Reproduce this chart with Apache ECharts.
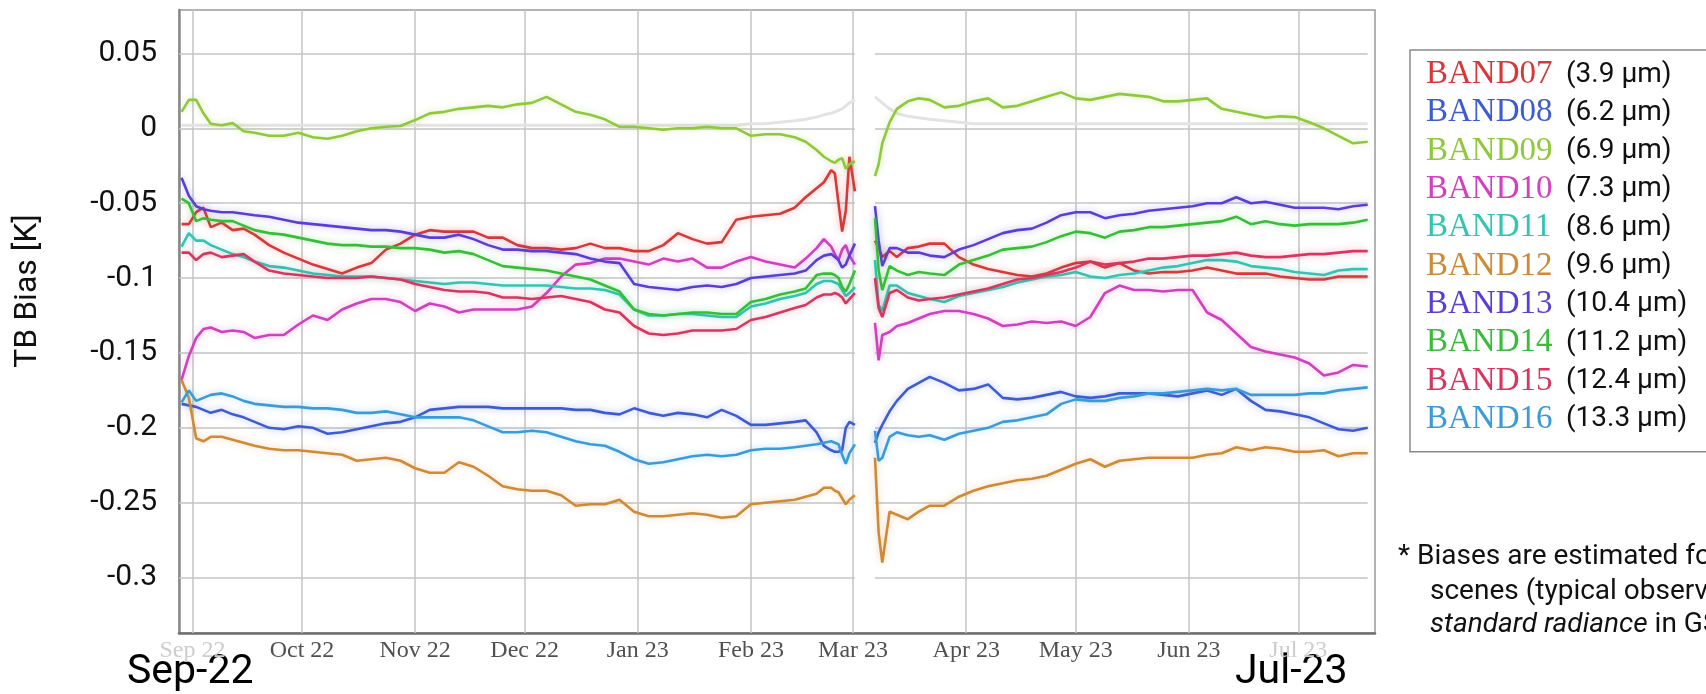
<!DOCTYPE html>
<html>
<head>
<meta charset="utf-8">
<script src="https://cdn.jsdelivr.net/npm/echarts@6/dist/echarts.min.js"></script>
<style>
  html, body { margin: 0; padding: 0; background: #ffffff; }
  #chart { width: 1706px; height: 694px; }
</style>
</head>
<body>
<div id="chart"></div>
<script>
// Himawari IR bands and their central wavelengths
const bandNames = ['BAND07', 'BAND08', 'BAND09', 'BAND10', 'BAND11', 'BAND12', 'BAND13', 'BAND14', 'BAND15', 'BAND16'];
const wavelengths = ['(3.9 μm)', '(6.2 μm)', '(6.9 μm)', '(7.3 μm)', '(8.6 μm)', '(9.6 μm)', '(10.4 μm)', '(11.2 μm)', '(12.4 μm)', '(13.3 μm)'];
const bandColors = ['#d83838', '#3d5bd2', '#8fc93a', '#d23fbf', '#33c4b3', '#cf8a35', '#5a3ed6', '#38bd38', '#d6365f', '#3b9bd9'];

// Sampling days, counted from 1 Sep 2022 (184 = data gap in early March)
const dayOffsets = [-3, -1, 1, 3, 5, 8, 11, 14, 17, 21, 25, 29, 33, 37, 41, 45, 49, 53, 57, 61, 65, 69, 73, 77, 81, 85, 89, 93, 97, 101, 105, 109, 113, 117, 121, 125, 129, 133, 137, 141, 145, 149, 153, 157, 161, 165, 168, 171, 173, 175, 176, 177, 178, 179, 180, 181.5, 184,
  187, 188, 189, 191, 193, 196, 199, 202, 206, 210, 214, 218, 222, 226, 230, 234, 238, 242, 246, 250, 254, 258, 262, 266, 270, 274, 278, 282, 286, 290, 294, 298, 302, 306, 310, 314, 318, 322];

// TB bias [K] per band
const band07 = [-0.064, -0.064, -0.056, -0.053, -0.066, -0.063, -0.068, -0.067, -0.071, -0.078, -0.083, -0.087, -0.091, -0.094, -0.097, -0.093, -0.090, -0.081, -0.077, -0.071, -0.068, -0.069, -0.069, -0.069, -0.073, -0.073, -0.078, -0.080, -0.080, -0.081, -0.080, -0.077, -0.080, -0.080, -0.082, -0.082, -0.078, -0.070, -0.074, -0.077, -0.076, -0.061, -0.059, -0.058, -0.057, -0.053, -0.046, -0.040, -0.036, -0.028, -0.030, -0.050, -0.069, -0.055, -0.019, -0.042, null,
  -0.075, -0.080, -0.086, -0.082, -0.086, -0.080, -0.079, -0.077, -0.077, -0.086, -0.091, -0.094, -0.096, -0.098, -0.099, -0.097, -0.093, -0.090, -0.089, -0.093, -0.090, -0.095, -0.097, -0.096, -0.096, -0.095, -0.093, -0.095, -0.097, -0.097, -0.097, -0.099, -0.100, -0.101, -0.101, -0.099, -0.099, -0.099];
const band08 = [-0.184, -0.185, -0.186, -0.188, -0.190, -0.188, -0.191, -0.193, -0.196, -0.200, -0.201, -0.199, -0.200, -0.204, -0.203, -0.201, -0.199, -0.197, -0.196, -0.193, -0.188, -0.187, -0.186, -0.186, -0.186, -0.187, -0.187, -0.187, -0.187, -0.187, -0.188, -0.188, -0.190, -0.191, -0.187, -0.190, -0.192, -0.190, -0.191, -0.193, -0.188, -0.192, -0.198, -0.198, -0.197, -0.196, -0.195, -0.203, -0.212, -0.215, -0.216, -0.216, -0.215, -0.200, -0.196, -0.198, null,
  -0.210, -0.203, -0.198, -0.189, -0.182, -0.174, -0.170, -0.166, -0.170, -0.175, -0.174, -0.171, -0.180, -0.181, -0.180, -0.178, -0.176, -0.179, -0.180, -0.179, -0.177, -0.177, -0.177, -0.178, -0.179, -0.177, -0.175, -0.178, -0.174, -0.182, -0.188, -0.189, -0.191, -0.193, -0.197, -0.201, -0.202, -0.200];
const band09 = [0.011, 0.019, 0.019, 0.010, 0.003, 0.002, 0.0035, -0.002, -0.003, -0.005, -0.005, -0.003, -0.006, -0.007, -0.005, -0.002, 0.000, 0.001, 0.0015, 0.0055, 0.010, 0.011, 0.013, 0.014, 0.015, 0.014, 0.016, 0.017, 0.021, 0.016, 0.011, 0.009, 0.006, 0.001, 0.001, 0.000, -0.001, 0.000, 0.000, 0.001, 0.000, 0.000, -0.005, -0.004, -0.004, -0.006, -0.009, -0.0145, -0.019, -0.022, -0.023, -0.021, -0.020, -0.027, -0.024, -0.022, null,
  -0.032, -0.024, -0.010, 0.004, 0.013, 0.018, 0.020, 0.019, 0.014, 0.015, 0.018, 0.020, 0.014, 0.015, 0.018, 0.021, 0.024, 0.020, 0.019, 0.021, 0.023, 0.022, 0.021, 0.018, 0.018, 0.019, 0.020, 0.013, 0.011, 0.009, 0.007, 0.008, 0.0075, 0.004, 0.000, -0.005, -0.010, -0.009];
const band10 = [-0.168, -0.152, -0.140, -0.134, -0.133, -0.136, -0.135, -0.136, -0.140, -0.138, -0.138, -0.131, -0.125, -0.128, -0.121, -0.117, -0.114, -0.114, -0.116, -0.122, -0.117, -0.119, -0.123, -0.121, -0.121, -0.121, -0.121, -0.119, -0.110, -0.099, -0.091, -0.090, -0.087, -0.087, -0.089, -0.091, -0.087, -0.089, -0.087, -0.093, -0.093, -0.089, -0.086, -0.089, -0.091, -0.093, -0.087, -0.080, -0.074, -0.079, -0.084, -0.088, -0.081, -0.078, -0.085, -0.091, null,
  -0.130, -0.155, -0.138, -0.136, -0.132, -0.130, -0.127, -0.124, -0.122, -0.122, -0.124, -0.127, -0.132, -0.131, -0.129, -0.130, -0.129, -0.132, -0.126, -0.110, -0.105, -0.108, -0.108, -0.109, -0.108, -0.108, -0.123, -0.128, -0.137, -0.146, -0.149, -0.151, -0.153, -0.157, -0.165, -0.163, -0.158, -0.159];
const band11 = [-0.079, -0.070, -0.075, -0.075, -0.078, -0.081, -0.084, -0.086, -0.089, -0.092, -0.093, -0.095, -0.097, -0.098, -0.099, -0.099, -0.099, -0.100, -0.101, -0.102, -0.103, -0.104, -0.103, -0.103, -0.104, -0.105, -0.105, -0.105, -0.105, -0.106, -0.107, -0.107, -0.108, -0.111, -0.121, -0.125, -0.125, -0.124, -0.124, -0.125, -0.126, -0.126, -0.119, -0.117, -0.114, -0.112, -0.110, -0.104, -0.102, -0.102, -0.103, -0.104, -0.108, -0.112, -0.110, -0.106, null,
  -0.088, -0.118, -0.122, -0.105, -0.105, -0.110, -0.112, -0.114, -0.116, -0.112, -0.110, -0.108, -0.106, -0.103, -0.101, -0.099, -0.098, -0.096, -0.099, -0.100, -0.098, -0.097, -0.095, -0.093, -0.092, -0.090, -0.088, -0.088, -0.089, -0.092, -0.093, -0.094, -0.096, -0.097, -0.098, -0.095, -0.094, -0.094];
const band12 = [-0.168, -0.180, -0.207, -0.209, -0.206, -0.206, -0.208, -0.210, -0.212, -0.214, -0.215, -0.215, -0.216, -0.217, -0.218, -0.222, -0.221, -0.220, -0.222, -0.227, -0.230, -0.230, -0.223, -0.226, -0.232, -0.239, -0.241, -0.242, -0.242, -0.245, -0.252, -0.251, -0.251, -0.248, -0.256, -0.259, -0.259, -0.258, -0.257, -0.258, -0.260, -0.259, -0.251, -0.250, -0.249, -0.248, -0.246, -0.244, -0.240, -0.240, -0.242, -0.243, -0.247, -0.251, -0.248, -0.245, null,
  -0.220, -0.270, -0.290, -0.256, -0.258, -0.261, -0.256, -0.252, -0.252, -0.246, -0.242, -0.239, -0.237, -0.235, -0.234, -0.232, -0.228, -0.224, -0.221, -0.226, -0.222, -0.221, -0.220, -0.220, -0.220, -0.220, -0.218, -0.217, -0.213, -0.215, -0.213, -0.214, -0.216, -0.216, -0.215, -0.219, -0.217, -0.217];
const band13 = [-0.033, -0.045, -0.052, -0.054, -0.055, -0.056, -0.056, -0.057, -0.058, -0.059, -0.061, -0.063, -0.064, -0.065, -0.066, -0.067, -0.068, -0.068, -0.069, -0.071, -0.073, -0.073, -0.071, -0.074, -0.078, -0.081, -0.081, -0.082, -0.082, -0.083, -0.084, -0.087, -0.089, -0.090, -0.104, -0.106, -0.107, -0.108, -0.106, -0.105, -0.106, -0.104, -0.100, -0.099, -0.098, -0.097, -0.095, -0.088, -0.085, -0.084, -0.086, -0.088, -0.093, -0.091, -0.085, -0.077, null,
  -0.052, -0.075, -0.092, -0.080, -0.080, -0.083, -0.083, -0.085, -0.086, -0.081, -0.078, -0.074, -0.070, -0.068, -0.067, -0.063, -0.058, -0.056, -0.056, -0.060, -0.058, -0.057, -0.055, -0.054, -0.053, -0.052, -0.050, -0.050, -0.046, -0.050, -0.049, -0.051, -0.053, -0.053, -0.053, -0.054, -0.052, -0.051];
const band14 = [-0.047, -0.050, -0.062, -0.060, -0.061, -0.062, -0.062, -0.065, -0.068, -0.070, -0.071, -0.073, -0.075, -0.077, -0.078, -0.078, -0.079, -0.079, -0.080, -0.080, -0.081, -0.083, -0.082, -0.084, -0.088, -0.092, -0.093, -0.094, -0.095, -0.097, -0.099, -0.101, -0.105, -0.109, -0.121, -0.124, -0.125, -0.124, -0.123, -0.123, -0.124, -0.124, -0.116, -0.114, -0.111, -0.109, -0.107, -0.098, -0.097, -0.097, -0.098, -0.100, -0.106, -0.109, -0.104, -0.095, null,
  -0.060, -0.095, -0.108, -0.092, -0.095, -0.098, -0.096, -0.097, -0.098, -0.091, -0.088, -0.085, -0.081, -0.080, -0.079, -0.076, -0.072, -0.069, -0.070, -0.073, -0.069, -0.068, -0.066, -0.066, -0.065, -0.064, -0.063, -0.062, -0.059, -0.064, -0.062, -0.064, -0.065, -0.064, -0.064, -0.064, -0.063, -0.061];
const band15 = [-0.083, -0.083, -0.088, -0.084, -0.083, -0.086, -0.085, -0.084, -0.089, -0.095, -0.097, -0.098, -0.099, -0.100, -0.100, -0.100, -0.099, -0.100, -0.101, -0.104, -0.106, -0.108, -0.109, -0.109, -0.110, -0.113, -0.113, -0.114, -0.113, -0.112, -0.114, -0.116, -0.121, -0.123, -0.132, -0.137, -0.138, -0.137, -0.135, -0.135, -0.135, -0.134, -0.128, -0.126, -0.123, -0.120, -0.118, -0.113, -0.111, -0.111, -0.110, -0.111, -0.113, -0.117, -0.114, -0.110, null,
  -0.100, -0.120, -0.126, -0.110, -0.108, -0.113, -0.115, -0.114, -0.113, -0.111, -0.109, -0.107, -0.104, -0.101, -0.100, -0.098, -0.096, -0.093, -0.089, -0.091, -0.090, -0.089, -0.087, -0.087, -0.086, -0.085, -0.085, -0.084, -0.083, -0.085, -0.086, -0.086, -0.085, -0.084, -0.084, -0.083, -0.082, -0.082];
const band16 = [-0.183, -0.175, -0.182, -0.180, -0.178, -0.177, -0.179, -0.182, -0.184, -0.185, -0.186, -0.186, -0.187, -0.187, -0.188, -0.190, -0.190, -0.189, -0.191, -0.193, -0.193, -0.193, -0.193, -0.195, -0.199, -0.203, -0.203, -0.202, -0.203, -0.206, -0.209, -0.211, -0.212, -0.216, -0.221, -0.224, -0.223, -0.221, -0.219, -0.218, -0.219, -0.218, -0.215, -0.214, -0.214, -0.213, -0.212, -0.211, -0.210, -0.209, -0.210, -0.211, -0.218, -0.224, -0.217, -0.211, null,
  -0.202, -0.222, -0.220, -0.206, -0.203, -0.205, -0.206, -0.205, -0.208, -0.204, -0.202, -0.200, -0.196, -0.195, -0.193, -0.191, -0.184, -0.181, -0.182, -0.182, -0.180, -0.179, -0.177, -0.177, -0.176, -0.175, -0.174, -0.175, -0.174, -0.178, -0.178, -0.178, -0.178, -0.177, -0.177, -0.175, -0.174, -0.173];

// Faint grey reference level near zero
const referenceLevel = [0.002, 0.002, 0.002, 0.002, 0.002, 0.002, 0.002, 0.002, 0.002, 0.002, 0.002, 0.002, 0.002, 0.002, 0.002, 0.002, 0.002, 0.002, 0.002, 0.002, 0.002, 0.002, 0.002, 0.002, 0.002, 0.002, 0.002, 0.002, 0.002, 0.002, 0.002, 0.002, 0.002, 0.002, 0.002, 0.002, 0.002, 0.002, 0.002, 0.002, 0.002, 0.002, 0.003, 0.003, 0.004, 0.005, 0.006, 0.0075, 0.009, 0.010, 0.011, 0.012, 0.013, 0.015, 0.017, 0.019, null,
  0.021, 0.019, 0.017, 0.013, 0.010, 0.008, 0.007, 0.006, 0.005, 0.004, 0.003, 0.003, 0.003, 0.003, 0.003, 0.003, 0.003, 0.003, 0.003, 0.003, 0.003, 0.003, 0.003, 0.003, 0.003, 0.003, 0.003, 0.003, 0.003, 0.003, 0.003, 0.003, 0.003, 0.003, 0.003, 0.003, 0.003, 0.003];

const monthLabels = ['Sep 22', 'Oct 22', 'Nov 22', 'Dec 22', 'Jan 23', 'Feb 23', 'Mar 23', 'Apr 23', 'May 23', 'Jun 23', 'Jul 23'];
const yTickValues = [0.05, 0, -0.05, -0.1, -0.15, -0.2, -0.25, -0.3];
const yTickLabels = ['0.05', '0', '-0.05', '-0.1', '-0.15', '-0.2', '-0.25', '-0.3'];

const bandValues = [band07, band08, band09, band10, band11, band12, band13, band14, band15, band16];

const DAY = 864e5;
const t0 = new Date(2022, 8, 1).getTime();
const times = dayOffsets.map(d => t0 + d * DAY);
const toPairs = vals => vals.map((v, i) => [times[i], v]);
const monthStarts = monthLabels.map((_, i) => new Date(2022, 8 + i, 1).getTime());

const xMin = t0 - 3.7 * DAY;
const xMax = t0 + 324 * DAY;
const leftEnd = t0 + 181.5 * DAY;     // last day before the March gap
const rightStart = t0 + 187 * DAY;    // first day after the gap
const rightEnd = t0 + 322 * DAY;      // last sample

function rgba(hex, a) {
  const n = parseInt(hex.slice(1), 16);
  return 'rgba(' + ((n >> 16) & 255) + ',' + ((n >> 8) & 255) + ',' + (n & 255) + ',' + a + ')';
}
function nearestIndex(list, v) {
  let idx = 0;
  list.forEach((t, i) => { if (Math.abs(t - v) < Math.abs(list[idx] - v)) idx = i; });
  return idx;
}

// Grid lines: months (vertical) and bias levels (split around the gap)
const gridLineData = monthStarts.map(t => ({ xAxis: t }));
yTickValues.forEach(v => {
  gridLineData.push([{ coord: [xMin, v] }, { coord: [leftEnd, v] }]);
  gridLineData.push([{ coord: [rightStart, v] }, { coord: [rightEnd, v] }]);
});

const series = [{
  name: 'reference',
  type: 'line',
  data: toPairs(referenceLevel),
  symbol: 'none',
  silent: true,
  z: 1,
  lineStyle: { color: '#e3e3e3', width: 3 },
  emphasis: { disabled: true },
  markLine: {
    silent: true,
    z: 1,
    symbol: 'none',
    animation: false,
    label: { show: false },
    emphasis: { disabled: true },
    lineStyle: { color: '#c4c4c4', width: 1.5, type: 'solid' },
    data: gridLineData
  }
}];

bandValues.forEach((vals, i) => {
  series.push({
    name: bandNames[i],
    type: 'line',
    data: toPairs(vals),
    symbol: 'none',
    connectNulls: false,
    silent: true,
    z: 3,
    itemStyle: { color: bandColors[i] },
    lineStyle: { color: bandColors[i], width: 2.6, shadowColor: rgba(bandColors[i], 0.4), shadowBlur: 7 },
    emphasis: { disabled: true }
  });
});

const legendRich = {
  w: { fontFamily: 'Roboto', fontSize: 28, color: '#111111' }
};
bandColors.forEach((c, i) => {
  legendRich['c' + i] = { fontFamily: 'Liberation Serif', fontSize: 33, color: c, width: 140 };
});

const chart = echarts.init(document.getElementById('chart'), null, { renderer: 'canvas' });
chart.setOption({
  animation: false,
  backgroundColor: '#ffffff',
  textStyle: { fontFamily: 'Roboto' },
  grid: {
    left: 179, top: 10, width: 1196, height: 623,
    show: true, borderColor: '#9a9a9a', borderWidth: 1.5,
    containLabel: false, outerBoundsMode: 'none'
  },
  xAxis: {
    type: 'value',
    min: xMin,
    max: xMax,
    splitLine: { show: false },
    axisTick: { show: false },
    axisLine: { show: true, onZero: false, lineStyle: { color: '#6f6f6f', width: 2.5 } },
    axisLabel: {
      customValues: monthStarts,
      margin: 6,
      fontFamily: 'Liberation Serif',
      fontSize: 24,
      color: '#505050',
      hideOverlap: false,
      formatter: function (v) {
        const idx = nearestIndex(monthStarts, v);
        const label = monthLabels[idx];
        return (idx === 0 || idx === monthLabels.length - 1) ? '{faded|' + label + '}' : label;
      },
      rich: { faded: { fontFamily: 'Liberation Serif', fontSize: 24, color: '#cdcdcd' } }
    }
  },
  yAxis: {
    type: 'value',
    min: -0.337,
    max: 0.079,
    splitLine: { show: false },
    axisTick: { show: false },
    axisLine: { show: true, onZero: false, lineStyle: { color: '#8a8a8a', width: 2.5 } },
    axisLabel: {
      customValues: yTickValues,
      margin: 22,
      fontFamily: 'Roboto',
      fontSize: 30,
      color: '#111111',
      formatter: function (v) {
        return yTickLabels[nearestIndex(yTickValues, v)];
      }
    }
  },
  legend: {
    orient: 'vertical',
    left: 1410,
    top: 50,
    padding: [8, 90, 16, 7],
    itemGap: 5.3,
    itemWidth: 0,
    itemHeight: 10,
    selectedMode: false,
    borderColor: '#8a8a8a',
    borderWidth: 1.5,
    itemStyle: { opacity: 0 },
    lineStyle: { opacity: 0 },
    data: bandNames,
    formatter: function (name) {
      const i = bandNames.indexOf(name);
      return '{c' + i + '|' + name + '}{w|' + wavelengths[i] + '}';
    },
    textStyle: { rich: legendRich }
  },
  graphic: [
    {
      type: 'text', x: 28, y: 291, rotation: Math.PI / 2, silent: true,
      style: { text: 'TB Bias [K]', font: '32px Roboto', fill: '#111111', align: 'center', verticalAlign: 'middle' }
    },
    {
      type: 'text', x: 127, y: 673, silent: true,
      style: { text: 'Sep-22', font: '41px Roboto', fill: '#000000', align: 'left', verticalAlign: 'middle' }
    },
    {
      type: 'text', x: 1235, y: 673, silent: true,
      style: { text: 'Jul-23', font: '41px Roboto', fill: '#000000', align: 'left', verticalAlign: 'middle' }
    },
    {
      type: 'text', x: 1398, y: 557, silent: true,
      style: { text: '* Biases are estimated for', font: '28px Roboto', fill: '#111111', align: 'left', verticalAlign: 'middle' }
    },
    {
      type: 'text', x: 1430, y: 592, silent: true,
      style: { text: 'scenes (typical observation)', font: '28px Roboto', fill: '#111111', align: 'left', verticalAlign: 'middle' }
    },
    {
      type: 'text', x: 1430, y: 625, silent: true,
      style: {
        text: '{i|standard radiance} in GSICS',
        font: '28px Roboto', fill: '#111111', align: 'left', verticalAlign: 'middle',
        rich: { i: { fontFamily: 'Roboto', fontSize: 28, fontStyle: 'italic', fill: '#111111' } }
      }
    }
  ],
  series: series
});
</script>
</body>
</html>
